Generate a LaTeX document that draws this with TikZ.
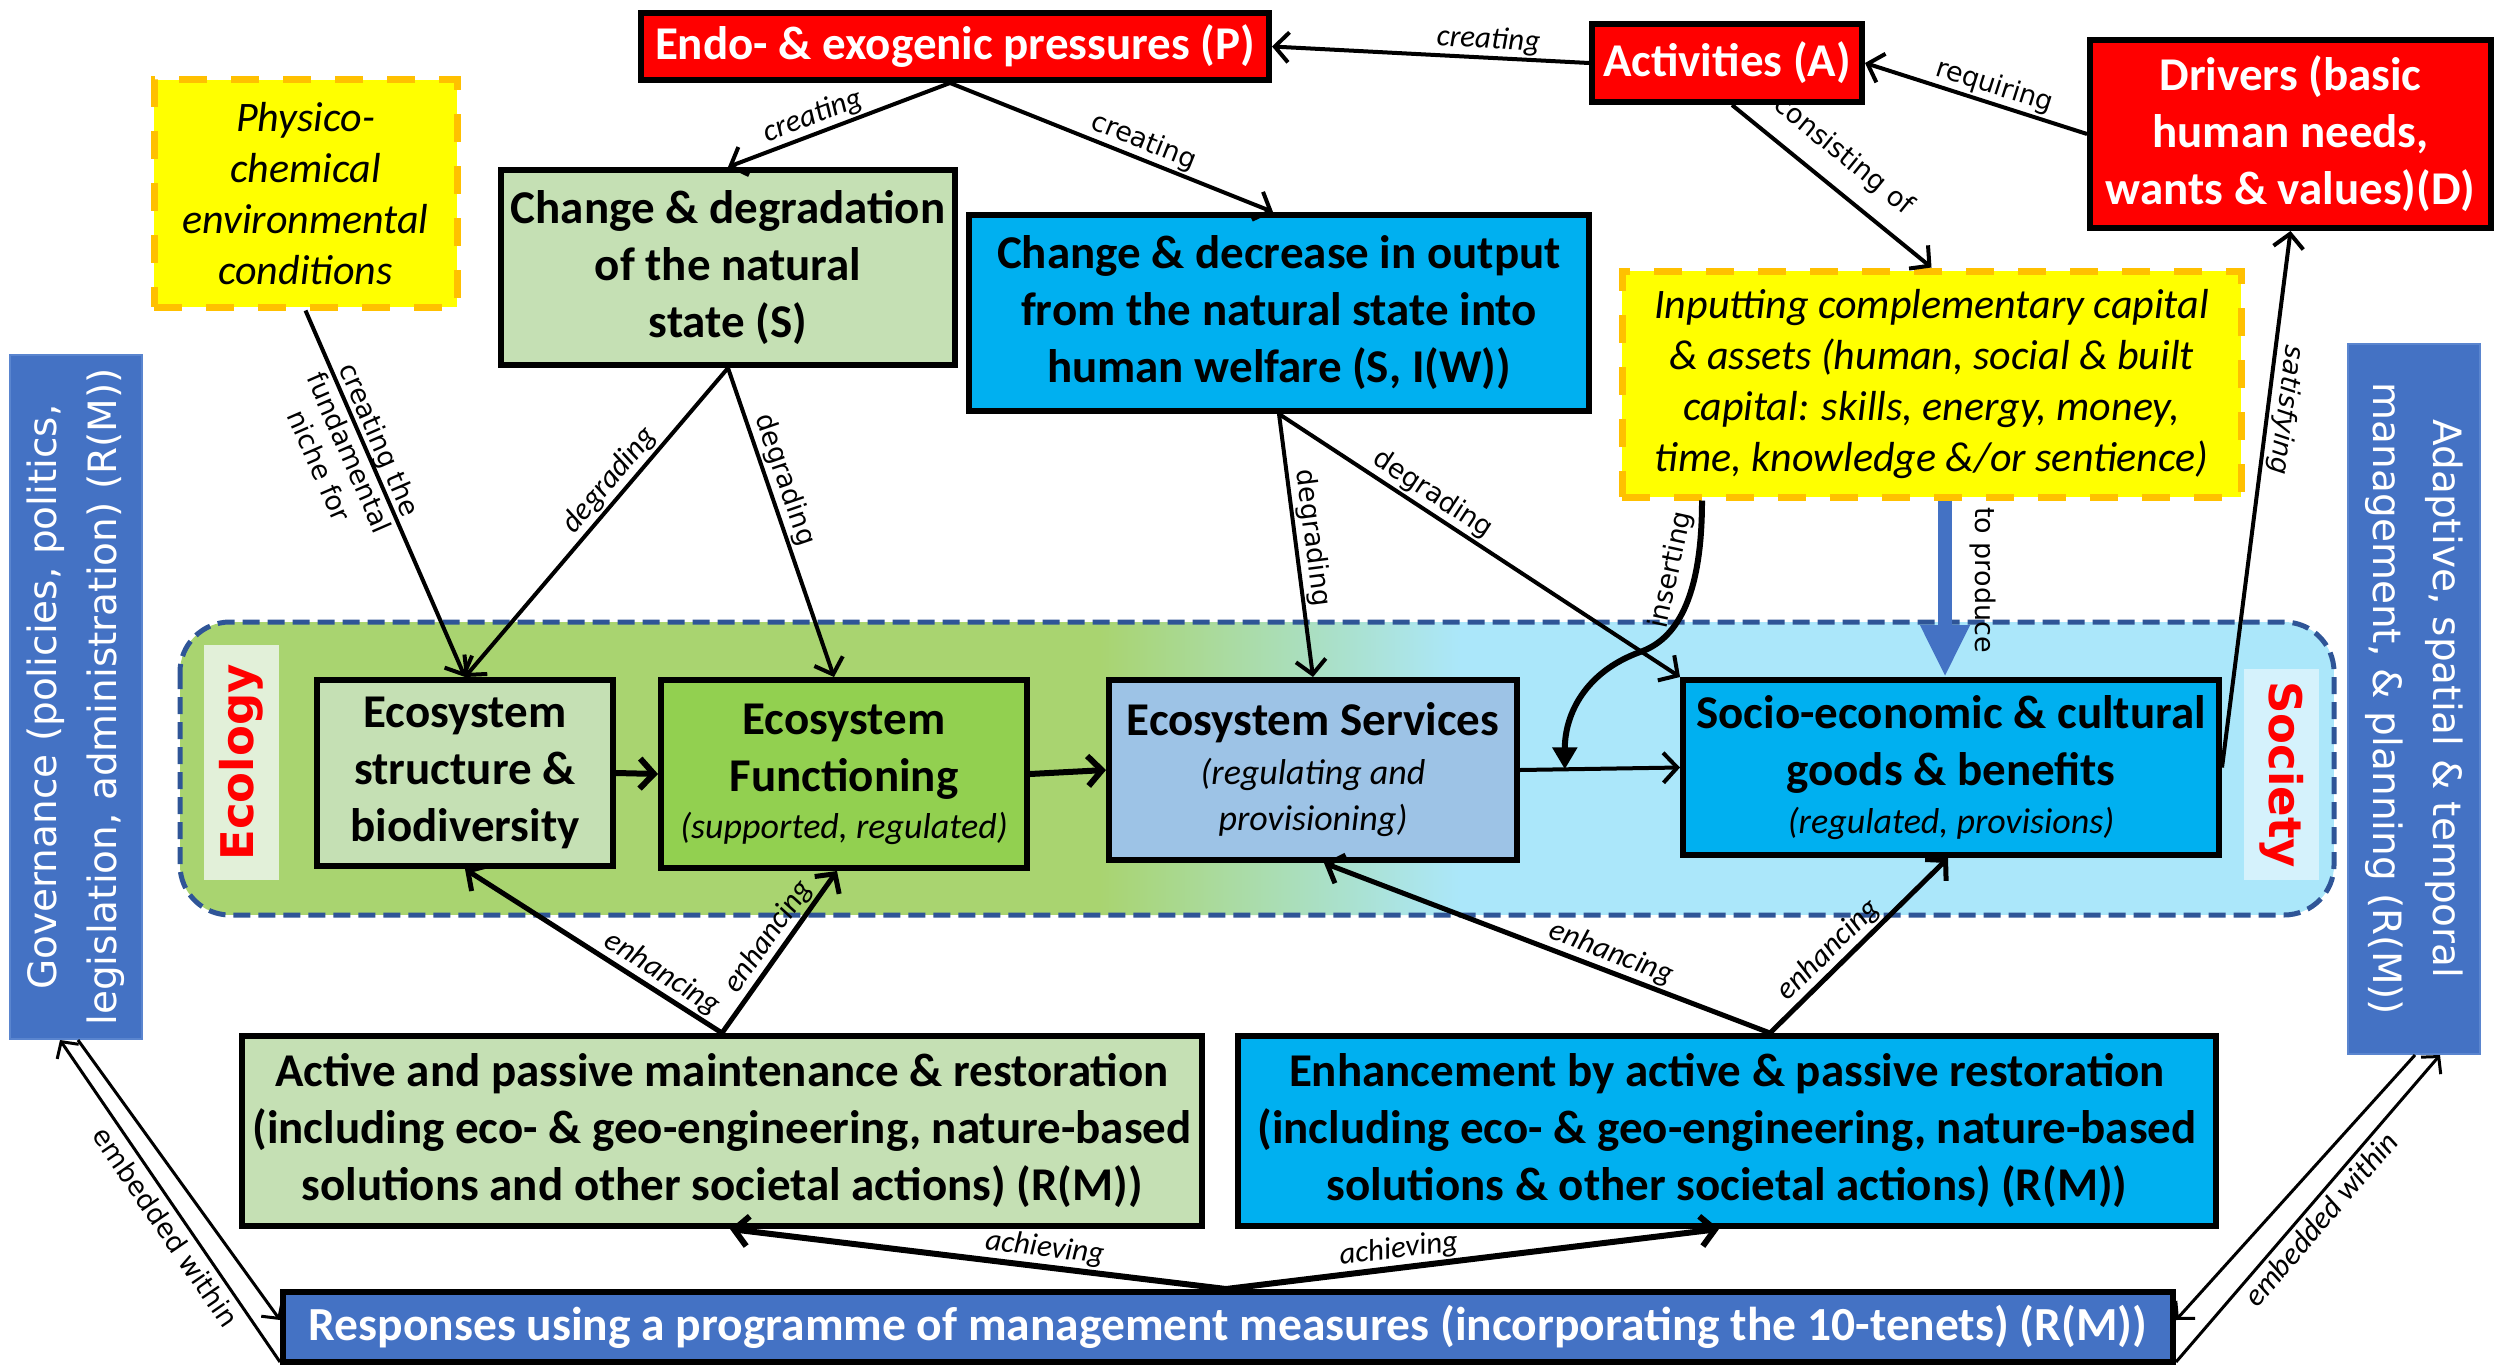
\documentclass[tikz,border=0pt]{standalone}
\usepackage{fontspec}
\setmainfont{Carlito}
\newfontfamily\vfont{DejaVu Sans}
\usetikzlibrary{arrows.meta,calc}

\definecolor{redbox}{HTML}{FF0000}
\definecolor{lgreen}{HTML}{C5E0B4}
\definecolor{mgreen}{HTML}{92D050}
\definecolor{cyanbox}{HTML}{00B0F0}
\definecolor{svcblue}{HTML}{9DC3E6}
\definecolor{govblue}{HTML}{4472C4}
\definecolor{govedge}{HTML}{5A85CF}
\definecolor{yel}{HTML}{FFFF00}
\definecolor{orng}{HTML}{FFC000}
\definecolor{bandgreen}{HTML}{A9D470}
\definecolor{bandblue}{HTML}{ABE7FA}
\definecolor{bandedge}{HTML}{2F5597}
\definecolor{ecobg}{HTML}{E2F0D9}
\definecolor{socbg}{HTML}{D5F2FC}

\newcommand\subtxt[1]{{\mdseries\itshape\fontsize{36}{44}\selectfont #1}}

\begin{document}
\begin{tikzpicture}[x=1pt,y=-1pt,
  box/.style={draw=black, line width=6pt, align=center, inner sep=0pt,
    font=\bfseries\fontsize{47}{57}\selectfont},
  wh/.style 2 args={minimum width=#1pt, minimum height=#2pt},
  redbox/.style={box, fill=redbox, text=white},
  dashbox/.style={draw=orng, fill=yel, line width=7pt, dash pattern=on 28pt off 24pt,
    align=center, inner sep=0pt, font=\itshape\fontsize{42}{51}\selectfont},
  sidebox/.style={draw=govedge, line width=2pt, fill=govblue, text=white, inner sep=0pt,
    align=center, font=\vfont\fontsize{39}{60}\selectfont},
  tag/.style={inner sep=0pt, text=red, font=\vfont\bfseries\fontsize{45}{54}\selectfont},
  conn/.style={line width=4pt, -{Straight Barb[length=14pt,width=30pt]}},
  bconn/.style={conn, line width=6pt},
  econn/.style={line width=3pt, -{Straight Barb[length=12pt,width=26pt]}},
  lbl/.style={font=\itshape\fontsize{31}{37}\selectfont, inner sep=2pt, sloped},
  vlbl/.style={font=\vfont\fontsize{27}{33}\selectfont, inner sep=2pt, sloped, align=center},
]
\useasboundingbox (0,0) rectangle (2496,1367);

% Ecology / Society band with a green-to-blue blend
\begin{scope}
  \clip[rounded corners=50pt] (180,622) rectangle (2334,915);
  \fill[bandgreen] (180,622) rectangle (1100,915);
  \fill[bandblue] (1460,622) rectangle (2334,915);
  \shade[left color=bandgreen, right color=bandblue] (1099,622) rectangle (1461,915);
\end{scope}
\draw[bandedge, line width=5pt, dash pattern=on 17pt off 8pt, rounded corners=50pt]
  (180,622) rectangle (2334,915);
\node[tag, fill=ecobg, rotate=90, wh={235}{75}] (ecology) at (241.5,762.5) {Ecology};
\node[tag, fill=socbg, rotate=-90, wh={211}{75}] (society) at (2281.5,774.5) {Society};

% top row
\node[redbox, wh={628}{67}] (P) at (955,46.5) {Endo- \& exogenic pressures (P)};
\node[redbox, wh={270}{78}] (A) at (1727,63) {Activities (A)};
\node[redbox, wh={401}{188}] (D) at (2290.5,134) {Drivers (basic\\human needs,\\wants \& values)(D)};
\node[dashbox, wh={303}{227}] (PC) at (305.5,193.5) {Physico-\\chemical\\environmental\\conditions};
\node[box, fill=lgreen, wh={454}{195}] (S) at (728,267.5) {Change \& degradation\\of the natural\\state (S)};
\node[box, fill=cyanbox, wh={620}{196}] (SW) at (1279,313) {Change \& decrease in output\\from the natural state into\\human welfare (S, I(W))};
\node[dashbox, wh={619}{226}] (IN) at (1931.5,384) {Inputting complementary capital\\\& assets (human, social \& built\\capital: skills, energy, money,\\time, knowledge \&/or sentience)};

% band row
\node[box, fill=lgreen, wh={296}{186}] (ES) at (465,773) {Ecosystem\\structure \&\\biodiversity};
\node[box, fill=mgreen, wh={366}{188}] (EF) at (844,774) {Ecosystem\\Functioning\\[-10pt]\subtxt{(supported, regulated)}};
\node[box, fill=svcblue, wh={408}{180}] (SV) at (1313,770) {Ecosystem Services\\[-8pt]\subtxt{(regulating and}\\[-11pt]\subtxt{provisioning)}};
\node[box, fill=cyanbox, wh={536}{175}] (SE) at (1951,767.5) {Socio-economic \& cultural\\goods \& benefits\\[-9pt]\subtxt{(regulated, provisions)}};

% side columns
\node[sidebox, rotate=90, wh={684}{132}] (G) at (76,697) {Governance (policies, politics,\\legislation, administration) (R(M))};
\node[sidebox, rotate=-90, wh={710}{132}] (AD) at (2414,699) {Adaptive, spatial \& temporal\\management, \& planning (R(M))};

% bottom rows
\node[box, fill=lgreen, wh={960}{190}] (AM) at (722,1131) {Active and passive maintenance \& restoration\\(including eco- \& geo-engineering, nature-based\\solutions and other societal actions) (R(M))};
\node[box, fill=cyanbox, wh={978}{190}] (EN) at (1727,1131) {Enhancement by active \& passive restoration\\(including eco- \& geo-engineering, nature-based\\solutions \& other societal actions) (R(M))};
\node[box, fill=govblue, text=white, wh={1890}{70}, font=\bfseries\fontsize{47.5}{57}\selectfont] (R) at (1228,1327) {Responses using a programme of management measures (incorporating the 10-tenets) (R(M))};

% connectors, top part
\draw[conn] (A.west) -- node[lbl, above, pos=.32] {creating} (P.east);
\draw[conn] (D.west) -- node[vlbl, above, pos=.44] {requiring} (A.east);
\draw[conn] ([xshift=5pt]A.south) -- node[vlbl, above=14pt, pos=.46] {consisting of} (IN.north);
\draw[conn] ([xshift=-5pt]P.south) -- node[lbl, above, pos=.59] {creating} (S.north);
\draw[conn] ([xshift=-5pt]P.south) -- node[vlbl, above, pos=.58] {creating} ([xshift=-6pt]SW.north);
\draw[conn] (PC.south) -- node[vlbl, pos=.37, yshift=-16pt] {creating the\\fundamental\\niche for} (ES.north);
\draw[conn] (S.south) -- node[lbl, above, pos=.40] {degrading} (ES.north);
\draw[conn] (S.south) -- node[vlbl, above, pos=.38] {degrading} ([xshift=-10pt]EF.north);
\draw[conn] (SW.south) -- node[vlbl, above, pos=.48] {degrading} (SV.north);
\draw[conn] (SW.south) -- node[vlbl, above, pos=.36] {degrading} (SE.north west);

% connectors inside the band
\draw[bconn] (ES.east) -- (EF.west);
\draw[bconn] (EF.east) -- (SV.west);
\draw[conn] (SV.east) -- (SE.west);
\coordinate (ins) at ($(SV.east)!0.28!(SE.west)$);
\draw[line width=6pt, -{Triangle[length=22pt,width=24pt]}]
  ([xshift=-229.5pt]IN.south) .. controls +(0,100) and +(35,-12) ..
  node[vlbl, above=6pt, pos=.3] {inserting} (1640,652)
  .. controls +(-55,20) and +(0,-55) .. (ins);
\draw[govblue, line width=14pt, -{Triangle[length=52pt,width=46pt]}]
  ([xshift=13.5pt]IN.south) -- node[pos=.45, rotate=-90, anchor=south, inner ysep=18pt, text=black,
    font=\vfont\fontsize{27}{33}\selectfont] {to produce} ([xshift=13.5pt]IN.south |- SE.north);
\draw[conn] (SE.east) -- node[pos=.67, rotate=-97.2, anchor=south, inner ysep=3pt,
    font=\vfont\itshape\fontsize{27}{33}\selectfont] {satisfying} (D.south);

% enhancing
\draw[conn, line width=5pt] (AM.north) -- node[lbl, above, pos=.27] {enhancing} (ES.south);
\draw[conn, line width=5pt] (AM.north) -- node[lbl, above, pos=.53] {enhancing} ([xshift=-7pt]EF.south);
\draw[conn, line width=5pt] ([xshift=43pt]EN.north) -- node[lbl, above, pos=.37] {enhancing} ([xshift=11pt]SV.south);
\draw[conn, line width=5pt] ([xshift=43pt]EN.north) -- node[lbl, above, pos=.40] {enhancing} ([xshift=-3pt]SE.south);

% achieving
\draw[bconn] ([xshift=-2pt]R.north) -- node[lbl, above, pos=.37] {achieving} ([xshift=8pt]AM.south);
\draw[bconn] ([xshift=-2pt]R.north) -- node[lbl, above, pos=.355] {achieving} ([xshift=-8pt]EN.south);

% embedded within
\draw[econn] ([yshift=3pt]R.south west) -- node[vlbl, below=4pt, pos=.45] {embedded within} ([xshift=-16pt]G.west);
\draw[econn] ([xshift=2pt]G.west) -- ([yshift=7pt]R.west);
\draw[econn] ([xshift=1pt]AD.east) -- ([yshift=7pt]R.east);
\draw[econn] ([yshift=3pt]R.south east) -- node[lbl, below=2pt, pos=.5] {embedded within} ([xshift=26pt]AD.east);
\end{tikzpicture}
\end{document}
